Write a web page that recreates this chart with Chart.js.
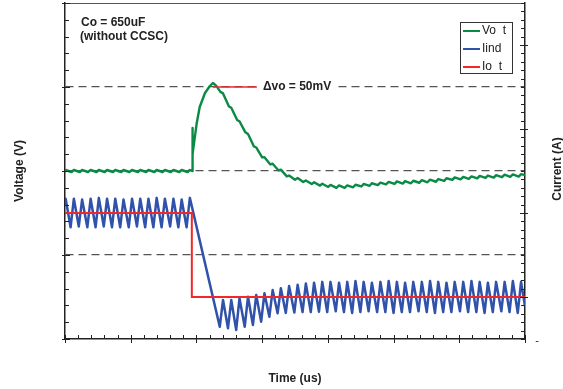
<!DOCTYPE html>
<html>
<head>
<meta charset="utf-8">
<script src="https://cdn.jsdelivr.net/npm/chart.js@4.4.1/dist/chart.umd.min.js"></script>
<style>
  body { margin: 0; background: #fff; }
</style>
</head>
<body>
<canvas id="c" width="563" height="389"></canvas>
<script>
// output current step (A)
const timeIo = [0, 38.6, 38.6, 140];
const io = [15, 15, 5, 5];

// inductor current (A)
const timeIind = [
  0, 0.2, 1.7, 2.7, 4.2, 5.2, 6.8, 7.8, 9.3, 10.3, 11.8, 12.8, 14.3, 15.3, 16.8, 17.8,
  19.4, 20.4, 21.9, 22.9, 24.4, 25.4, 26.9, 27.9, 29.4, 30.4, 32.0, 33.0, 34.5, 35.5, 37.0, 38.0,
  47.1, 48.1, 49.6, 50.6, 52.1, 53.1, 54.7, 55.7, 57.2, 58.2, 59.7, 60.7, 62.2, 63.2, 64.7, 65.7,
  67.2, 68.2, 69.8, 70.8, 72.3, 73.3, 74.8, 75.8, 77.3, 78.3, 79.8, 80.8, 82.4, 83.4, 84.9, 85.9,
  87.4, 88.4, 89.9, 90.9, 92.4, 93.4, 95.0, 96.0, 97.5, 98.5, 100.0, 101.0, 102.5, 103.5, 105.0, 106.0,
  107.6, 108.6, 110.1, 111.1, 112.6, 113.6, 115.1, 116.1, 117.6, 118.6, 120.2, 121.2, 122.7, 123.7,
  125.2, 126.2, 127.7, 128.7, 130.2, 131.2, 132.8, 133.8, 135.3, 136.3, 137.8, 138.8, 140.0
];
const iind = [
  16.0, 16.7, 13.3, 16.7, 13.4, 16.6, 13.3, 16.7, 13.3, 16.8, 13.4, 16.7, 13.3, 16.7, 13.3, 16.6,
  13.3, 16.7, 13.4, 16.7, 13.3, 16.7, 13.3, 16.8, 13.3, 16.7, 13.4, 16.7, 13.3, 16.6, 13.3, 16.8,
  1.46, 4.64, 1.27, 4.64, 1.07, 4.85, 1.46, 5.04, 1.67, 5.24, 2.06, 5.44, 2.65, 5.83, 3.06, 6.04,
  3.1, 6.3, 3.15, 6.45, 3.2, 6.6, 3.2, 6.7, 3.25, 6.8, 3.2, 6.8, 3.3, 6.7, 3.2, 6.8,
  3.1, 6.9, 3.2, 6.8, 3.3, 6.7, 3.2, 6.8, 3.2, 6.9, 3.1, 6.8, 3.2, 6.7, 3.2, 6.8,
  3.3, 6.8, 3.2, 6.9, 3.1, 6.8, 3.2, 6.7, 3.2, 6.8, 3.3, 6.8, 3.2, 6.9,
  3.2, 6.8, 3.1, 6.7, 3.2, 6.8, 3.3, 6.8, 3.2, 6.9, 3.1, 6.8, 3.9
];

// output voltage (V)
const timeVo = [
  0, 0.2, 2.0, 2.7, 4.5, 5.2, 7.0, 7.8, 9.6, 10.3, 12.1, 12.8, 14.6, 15.3, 17.1, 17.8,
  19.6, 20.4, 22.2, 22.9, 24.7, 25.4, 27.2, 27.9, 29.7, 30.4, 32.2, 33.0, 34.8, 35.5, 37.3, 38.0,
  38.7, 38.75, 38.9, 40.1, 41.0, 42.6, 44.1, 45.0, 46.0,
  47.3, 48.1, 49.9, 50.6, 52.4, 53.1, 54.9, 55.7, 57.5, 58.2, 60.0, 60.7, 62.5, 63.2, 65.0, 65.7,
  67.5, 68.2, 70.0, 70.8, 72.5, 73.3, 75.1, 75.8, 77.6, 78.3, 80.1, 80.8, 82.6, 83.4, 85.1, 85.9,
  87.7, 88.4, 90.2, 90.9, 92.7, 93.4, 95.2, 96.0, 97.7, 98.5, 100.3, 101.0, 102.8, 103.5, 105.3, 106.0,
  107.8, 108.6, 110.3, 111.1, 112.9, 113.6, 115.4, 116.1, 117.9, 118.6, 120.4, 121.2, 122.9, 123.7,
  125.5, 126.2, 128.0, 128.7, 130.5, 131.2, 133.0, 133.8, 135.5, 136.3, 138.1, 138.8, 140.0
];
const vo = [
  1.9000, 1.9006, 1.8994, 1.9006, 1.8994, 1.9006, 1.8994, 1.9006, 1.8994, 1.9006, 1.8994, 1.9006, 1.8994, 1.9006, 1.8994, 1.9006,
  1.8994, 1.9006, 1.8994, 1.9006, 1.8994, 1.9006, 1.8994, 1.9006, 1.8994, 1.9006, 1.8994, 1.9006, 1.8994, 1.9006, 1.8994, 1.9006,
  1.9000, 1.9256, 1.9100, 1.9286, 1.9381, 1.9464, 1.9506, 1.9524, 1.9508,
  1.9471, 1.9462, 1.9384, 1.9376, 1.9303, 1.9296, 1.9230, 1.9220, 1.9146, 1.9140, 1.9081, 1.9082, 1.9039, 1.9043, 1.9003, 1.9008,
  1.8968, 1.8973, 1.8948, 1.8958, 1.8934, 1.8944, 1.8922, 1.8933, 1.8913, 1.8924, 1.8905, 1.8917, 1.8900, 1.8914, 1.8900, 1.8914,
  1.8903, 1.8918, 1.8908, 1.8923, 1.8912, 1.8927, 1.8916, 1.8931, 1.8920, 1.8935, 1.8923, 1.8938, 1.8925, 1.8940, 1.8927, 1.8942,
  1.8930, 1.8945, 1.8933, 1.8948, 1.8936, 1.8952, 1.8941, 1.8957, 1.8947, 1.8962, 1.8950, 1.8965, 1.8953, 1.8968,
  1.8956, 1.8971, 1.8959, 1.8973, 1.8961, 1.8975, 1.8963, 1.8978, 1.8965, 1.8980, 1.8967, 1.8981, 1.8975
];

// delta-vo marker
const markT = [45.0, 58.4];
const markV = [1.95, 1.95];

const seriesNames = ['Vo  t', 'Iind', 'Io  t'];
const seriesColors = ['#0b8a45', '#3152aa', '#f02828'];

const FONT = "'Liberation Sans', Arial, sans-serif";

function pts(xs, ys) {
  return xs.map((t, i) => ({ x: t, y: ys[i] }));
}

const decor = {
  id: 'decor',
  afterDraw(chart) {
    const { ctx, chartArea: a, scales: { x, y, y1 } } = chart;
    ctx.save();
    ctx.lineWidth = 1;
    const line = (x1, y1_, x2, y2) => {
      ctx.beginPath(); ctx.moveTo(x1, y1_); ctx.lineTo(x2, y2); ctx.stroke();
    };
    // top edge
    ctx.strokeStyle = '#555';
    line(a.left, a.top + 0.5, a.right, a.top + 0.5);
    ctx.strokeStyle = '#222';

    // bottom ticks
    for (let i = 0; i <= 35; i++) {
      const px = Math.round(x.getPixelForValue(i * 4)) + 0.5;
      if (i % 5 === 0) line(px, a.bottom - 4, px, a.bottom + 4);
      else line(px, a.bottom - 4, px, a.bottom);
    }
    // left ticks
    for (let i = 0; i <= 20; i++) {
      const py = Math.round(y.getPixelForValue(1.8 + i * 0.01)) + 0.5;
      if (i % 5 === 0) line(a.left - 3, py, a.left + 5, py);
      else line(a.left, py, a.left + 4, py);
    }
    // right ticks
    for (let i = 0; i <= 40; i++) {
      const py = Math.round(y1.getPixelForValue(i)) + 0.5;
      if (i % 10 === 5) line(a.right - 5, py, a.right + 3, py);
      else line(a.right - 4, py, a.right, py);
    }

    // axis titles
    ctx.fillStyle = '#222';
    ctx.font = 'bold 12px ' + FONT;
    ctx.textAlign = 'center';
    ctx.textBaseline = 'middle';
    ctx.fillText('Time (us)', (a.left + a.right) / 2, 379);
    ctx.save();
    ctx.translate(20, (a.top + a.bottom) / 2);
    ctx.rotate(-Math.PI / 2);
    ctx.fillText('Voltage (V)', 0, 0);
    ctx.restore();
    ctx.save();
    ctx.translate(558, (a.top + a.bottom) / 2 - 2);
    ctx.rotate(-Math.PI / 2);
    ctx.fillText('Current (A)', 0, 0);
    ctx.restore();

    ctx.font = '11px ' + FONT;
    ctx.fillText('-', a.right + 12, a.bottom + 2);

    // annotations
    ctx.font = 'bold 12px ' + FONT;
    ctx.textAlign = 'left';
    ctx.fillText('Co = 650uF', 81, 23);
    ctx.fillText('(without CCSC)', 80, 37);
    const dvText = '\u0394vo = 50mV';
    const tx = x.getPixelForValue(markT[1]) + 6;
    const ty = y.getPixelForValue(markV[1]);
    const tw = ctx.measureText(dvText).width;
    ctx.fillStyle = '#fff';
    ctx.fillRect(tx - 3, ty - 7, tw + 8, 14);
    ctx.fillStyle = '#222';
    ctx.fillText(dvText, tx, ty);

    // legend
    ctx.fillStyle = '#fff';
    ctx.fillRect(460.5, 22.5, 52, 51);
    ctx.strokeStyle = '#333';
    ctx.strokeRect(460.5, 22.5, 52, 51);
    ctx.font = '12px ' + FONT;
    seriesNames.forEach((name, i) => {
      const ry = 31 + i * 18;
      ctx.strokeStyle = seriesColors[i];
      ctx.lineWidth = 2;
      line(463, ry, 480, ry);
      ctx.fillStyle = '#222';
      ctx.fillText(name, 482, ry);
    });
    ctx.restore();
  }
};

new Chart(document.getElementById('c'), {
  type: 'line',
  data: {
    datasets: [
      { label: 'marker', data: pts(markT, markV), yAxisID: 'y', borderColor: seriesColors[2], borderWidth: 1.5, order: 0 },
      { label: seriesNames[2], data: pts(timeIo, io), yAxisID: 'y1', borderColor: seriesColors[2], borderWidth: 2, order: 1 },
      { label: seriesNames[1], data: pts(timeIind, iind), yAxisID: 'y1', borderColor: seriesColors[1], borderWidth: 2.5, borderJoinStyle: 'round', order: 2 },
      { label: seriesNames[0], data: pts(timeVo, vo), yAxisID: 'y', borderColor: seriesColors[0], borderWidth: 2.4, borderJoinStyle: 'round', order: 3 }
    ]
  },
  options: {
    responsive: false,
    animation: false,
    devicePixelRatio: 1,
    layout: { padding: { top: 3, left: 0, right: 0, bottom: 0 } },
    elements: { point: { radius: 0 }, line: { tension: 0, fill: false } },
    plugins: { legend: { display: false }, tooltip: { enabled: false } },
    scales: {
      x: {
        type: 'linear', min: 0, max: 140,
        ticks: { display: false, stepSize: 20 },
        grid: { display: false },
        border: { color: '#222', width: 1.5 },
        afterFit: (s) => { s.height = 50; }
      },
      y: {
        position: 'left', min: 1.8, max: 2.0,
        ticks: { display: false, stepSize: 0.05 },
        grid: {
          drawTicks: false,
          lineWidth: 1.3,
          color: (c) => (c.index === 0 || c.index === 4) ? 'rgba(0,0,0,0)' : '#555'
        },
        border: { color: '#222', width: 1.5, dash: [8, 5] },
        afterFit: (s) => { s.width = 65; }
      },
      y1: {
        position: 'right', min: 0, max: 40,
        ticks: { display: false, stepSize: 10 },
        grid: { display: false },
        border: { color: '#222', width: 1.5 },
        afterFit: (s) => { s.width = 38; }
      }
    }
  },
  plugins: [decor]
});
</script>
</body>
</html>
